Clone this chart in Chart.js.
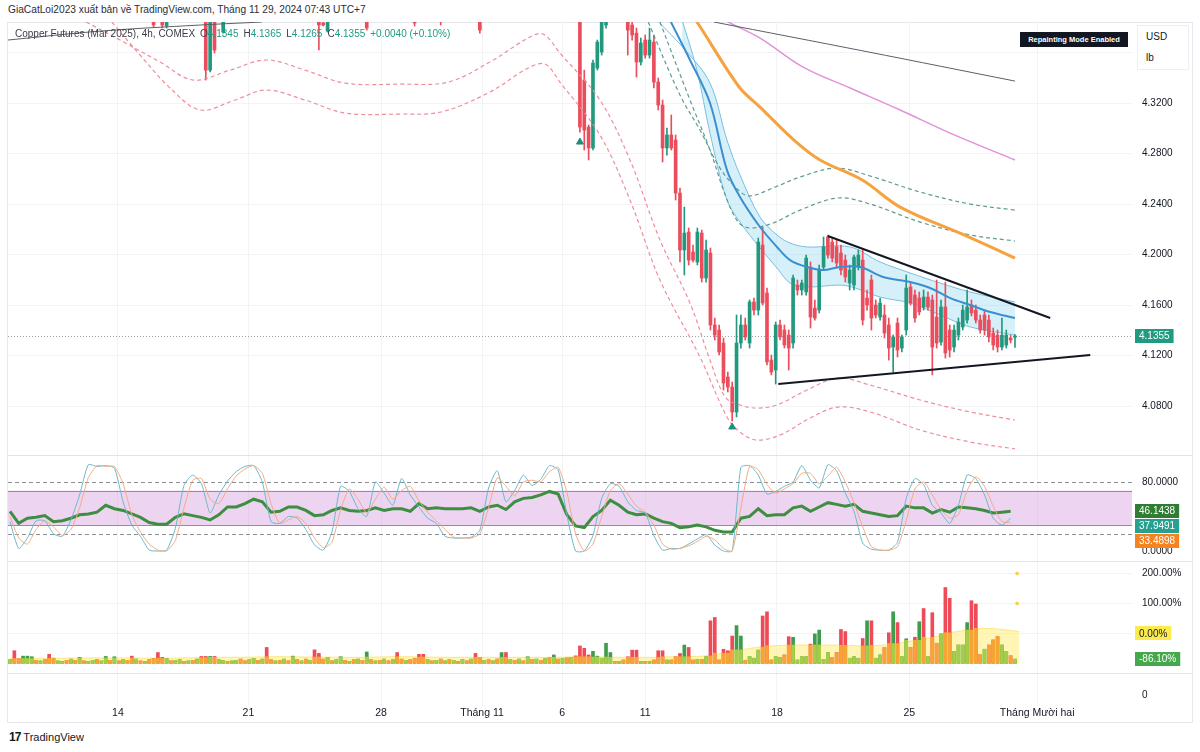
<!DOCTYPE html>
<html>
<head>
<meta charset="utf-8">
<script src="https://cdn.jsdelivr.net/npm/chart.js@4.4.1/dist/chart.umd.min.js"></script>
<style>
  html, body { margin: 0; padding: 0; background: #fff; }
  body { width: 1200px; height: 752px; position: relative; overflow: hidden;
         font-family: 'Liberation Sans', Arial, sans-serif; color: #131722; }
  #frame { position: absolute; left: 7px; top: 22px; width: 1186px; height: 701px;
           border: 1px solid #e6e8ee; box-sizing: border-box; }
  .pane { position: absolute; left: 0; }
  .sep { position: absolute; left: 7px; width: 1186px; height: 1px; background: #e0e3eb; }
  #credit { position: absolute; left: 8px; top: 4px; font-size: 10.2px; color: #2a2e39; white-space: nowrap; }
  #legend { position: absolute; left: 15px; top: 28px; font-size: 10px; color: #3a3e48; white-space: nowrap; z-index: 5; }
  #legend .v { color: #1f9b85; }
  #legend .k { margin-left: 5px; }
  #repaint { position: absolute; left: 1020px; top: 32px; width: 108px; height: 15px; background: #131722;
             color: #fff; font-size: 7.5px; font-weight: bold; line-height: 15px; text-align: center; z-index: 5; }
  #unit { position: absolute; left: 1137px; top: 25px; width: 52px; height: 45px; background: #fff;
          border: 1px solid #eceff3; box-sizing: border-box; font-size: 10px; z-index: 5; }
  #unit div { position: absolute; left: 8px; }
  #tv { position: absolute; left: 9px; top: 730px; font-size: 11px; color: #131722; white-space: nowrap; }
  #tv b { font-size: 12px; letter-spacing: -1px; margin-right: 3px; }
</style>
</head>
<body>
<div id="frame"></div>
<div class="pane" style="top:22px"><canvas id="cPrice" width="1200" height="433"></canvas></div>
<div class="sep" style="top:455px"></div>
<div class="pane" style="top:456px"><canvas id="cOsc" width="1200" height="105"></canvas></div>
<div class="sep" style="top:561px"></div>
<div class="pane" style="top:562px"><canvas id="cVol" width="1200" height="111"></canvas></div>
<div class="sep" style="top:673px"></div>
<div class="pane" style="top:674px"><canvas id="cBottom" width="1200" height="48"></canvas></div>

<div id="credit">GiaCatLoi2023 xuất bản về TradingView.com, Tháng 11 29, 2024 07:43 UTC+7</div>
<div id="legend">Copper Futures (Mar 2025), 4h, COMEX<span class="k">O<span class="v">4.1345</span></span><span class="k">H<span class="v">4.1365</span></span><span class="k">L<span class="v">4.1265</span></span><span class="k">C<span class="v">4.1355</span></span><span class="k v">+0.0040 (+0.10%)</span></div>
<div id="repaint">Repainting Mode Enabled</div>
<div id="unit"><div style="top:5px">USD</div><div style="top:26px">lb</div></div>
<div id="tv"><b>17</b>TradingView</div>

<script>
// ---- time axis (4h bars, bar 0 = left edge) ----
const tickPos = [24.8, 54.8, 85.3, 108.5, 126.9, 146.0, 176.3, 206.7, 236.1];
const tickLabels = ['14', '21', '28', 'Tháng 11', '6', '11', '18', '25', 'Tháng Mười hai'];
const xMin = -0.46, xMax = 257.9;

// ---- price pane ----
const priceTicks = [4.08, 4.12, 4.16, 4.20, 4.24, 4.28, 4.32, 4.36];
const priceMin = 4.0412, priceMax = 4.3842;

// candles [open, high, low, close] from bar 131 on (null = above the window)
const firstBar = 131;
const candlesMain = [
  [4.3937,4.3976,4.2970,4.3010],[4.3382,4.3461,4.2828,4.2986],[4.3010,4.3026,4.2749,4.2844],
  [4.2844,4.3541,4.2828,4.3517],[4.3477,4.3699,4.3461,4.3683],[4.3604,4.3937,4.3580,4.3897],
  [4.3818,4.3976,4.3794,4.3937],
  null, null, null, null,
  [4.3937,4.3976,4.3580,4.3778],[4.3818,4.3897,4.3699,4.3739],[4.3754,4.3794,4.3406,4.3525],
  [4.3525,4.3715,4.3501,4.3675],[4.3699,4.3739,4.3556,4.3580],[4.3580,4.3794,4.3556,4.3699],
  [4.3683,4.3739,4.3319,4.3366],[4.3366,4.3398,4.3145,4.3184],
  [4.3184,4.3224,4.2733,4.2844],[4.2844,4.3002,4.2788,4.2947],[4.2947,4.3105,4.2828,4.2844],
  [4.2907,4.2947,4.2432,4.2487],[4.2487,4.2527,4.1941,4.2036],[4.2036,4.2376,4.1838,4.2170],
  [4.2178,4.2210,4.1917,4.1956],[4.2020,4.2075,4.1941,4.1956],[4.1941,4.2210,4.1917,4.2178],
  [4.2170,4.2194,4.1782,4.1814],
  [4.1814,4.2115,4.1782,4.2036],[4.2012,4.2052,4.1402,4.1442],[4.1442,4.1497,4.1323,4.1362],
  [4.1402,4.1442,4.1204,4.1228],[4.1299,4.1339,4.0927,4.0982],[4.1030,4.1069,4.0911,4.0950],
  [4.0950,4.0990,4.0681,4.0752],[4.0752,4.1521,4.0713,4.1299],[4.1299,4.1521,4.1259,4.1442],
  [4.1442,4.1497,4.1323,4.1347],
  [4.1299,4.1640,4.1259,4.1624],[4.1624,4.1655,4.1521,4.1560],[4.1560,4.2131,4.1521,4.2099],
  [4.2075,4.2218,4.1600,4.1616],[4.1695,4.1735,4.1125,4.1149],[4.1164,4.1204,4.1046,4.1069],
  [4.1085,4.1465,4.0974,4.1442],[4.1442,4.1481,4.1323,4.1347],[4.1402,4.1442,4.1259,4.1283],
  [4.1362,4.1402,4.1085,4.1259],
  [4.1299,4.1838,4.1259,4.1814],[4.1758,4.1798,4.1679,4.1719],[4.1719,4.1798,4.1679,4.1774],
  [4.1703,4.1996,4.1679,4.1972],[4.1901,4.1941,4.1418,4.1505],[4.1576,4.1640,4.1481,4.1497],
  [4.1560,4.1917,4.1537,4.1877],[4.1901,4.2139,4.1877,4.2060],[4.2139,4.2155,4.1972,4.1996],
  [4.2099,4.2131,4.1941,4.1972],
  [4.2060,4.2115,4.1893,4.1933],[4.2012,4.2075,4.1838,4.1877],[4.1956,4.1996,4.1782,4.1822],
  [4.1774,4.1917,4.1719,4.1877],[4.1758,4.1996,4.1719,4.1980],[4.1901,4.2036,4.1877,4.1996],
  [4.1956,4.2036,4.1442,4.1481],[4.1655,4.1719,4.1560,4.1600],[4.1798,4.1838,4.1402,4.1497],
  [4.1600,4.1640,4.1497,4.1521],
  [4.1505,4.1655,4.1481,4.1616],[4.1521,4.1600,4.1339,4.1378],[4.1442,4.1497,4.1164,4.1259],
  [4.1267,4.1362,4.1069,4.1347],[4.1457,4.1497,4.1188,4.1244],[4.1259,4.1362,4.1228,4.1347],
  [4.1402,4.1838,4.1362,4.1735],[4.1743,4.1774,4.1600,4.1616],[4.1679,4.1719,4.1465,4.1497],
  [4.1655,4.1703,4.1521,4.1545],
  [4.1584,4.1719,4.1560,4.1663],[4.1663,4.1703,4.1560,4.1584],[4.1640,4.1679,4.1046,4.1267],
  [4.1505,4.1798,4.1259,4.1299],[4.1307,4.1640,4.1283,4.1584],[4.1584,4.1782,4.1180,4.1220],
  [4.1402,4.1442,4.1188,4.1244],[4.1267,4.1442,4.1228,4.1402],[4.1362,4.1497,4.1323,4.1465],
  [4.1426,4.1600,4.1402,4.1560],
  [4.1481,4.1719,4.1457,4.1584],[4.1600,4.1640,4.1513,4.1537],[4.1560,4.1600,4.1457,4.1481],
  [4.1481,4.1521,4.1378,4.1402],[4.1521,4.1560,4.1362,4.1402],[4.1481,4.1521,4.1307,4.1347],
  [4.1378,4.1418,4.1244,4.1283],[4.1362,4.1402,4.1228,4.1267],[4.1267,4.1497,4.1244,4.1362],
  [4.1283,4.1402,4.1259,4.1362],
  [4.1339,4.1362,4.1299,4.1323],[4.1345,4.1365,4.1265,4.1355]
];
// earlier bars that only poke into the top edge: [bar, open, high, low, close]
const candlesTop = [
  [33,4.3897,4.3976,4.3802,4.3818],[35,4.3897,4.3976,4.3794,4.3818],[36,4.3810,4.3976,4.3794,4.3897],
  [45,4.3937,4.3976,4.3382,4.3461],[46,4.3461,4.3937,4.3446,4.3897],[47,4.3921,4.3976,4.3596,4.3620],
  [49,4.3762,4.3937,4.3754,4.3857],[71,4.3897,4.3976,4.3620,4.3818],[72,4.3834,4.3897,4.3810,4.3818],
  [73,4.3770,4.3937,4.3762,4.3897],[82,4.3897,4.3976,4.3778,4.3794],[93,4.3897,4.3976,4.3810,4.3834],
  [99,4.3897,4.3976,4.3818,4.3857],[108,4.3897,4.3976,4.3754,4.3778]
];

// overlay lines as [bar, price]
const grayLine = [[-0.5,4.3699],[20.7,4.3770],[43.7,4.3818],[57.9,4.3842],[60,null],[161.8,4.3842],[196.8,4.3608],[231,4.3374]];
const pinkLine = [[162.1,4.3905],[165.1,4.3842],[172.4,4.3715],[182.3,4.3485],[193.1,4.3319],[204.6,4.3145],[216.1,4.2962],[231,4.2749]];
const orangeLine = [[156.0,4.3925],[157.9,4.3842],[167.6,4.3327],[172.4,4.3168],[180.2,4.2907],[186.2,4.2749],[195.9,4.2590],[204.6,4.2376],[219.3,4.2155],[231,4.1972]];
const bandUpper = [[148.7,4.3857],[155.2,4.3620],[160.9,4.3358],[164.8,4.2907],[167.8,4.2630],[172.4,4.2297],[176.3,4.2155],[179.3,4.2091],[183.2,4.2060],[193.1,4.2060],[200,4.1941],[206.9,4.1854],[213.8,4.1774],[220.7,4.1703],[231,4.1624]];
const bandMid = [[151.7,4.3857],[156.3,4.3541],[160.9,4.3200],[164.8,4.2669],[167.8,4.2456],[172.4,4.2218],[176.3,4.2060],[179.3,4.1956],[183.2,4.1901],[186.9,4.1877],[190.8,4.1901],[195.4,4.1901],[200.7,4.1822],[206.9,4.1782],[211.5,4.1735],[216.1,4.1655],[220.7,4.1600],[225.3,4.1545],[231,4.1497]];
const bandLower = [[154.5,4.3857],[157.9,4.3461],[160.9,4.2962],[164.8,4.2432],[167.8,4.2257],[172.4,4.2052],[176.3,4.1893],[179.3,4.1774],[183.2,4.1743],[190.8,4.1758],[194.3,4.1735],[200,4.1663],[206.9,4.1616],[213.8,4.1521],[220.7,4.1426],[231,4.1362]];
const greenDash1 = [[146.7,4.3842],[154,4.3263],[158.6,4.2986],[163.2,4.2685],[167.4,4.2511],[170.1,4.2464],[175.9,4.2535],[181.6,4.2614],[189.9,4.2685],[197.7,4.2622],[209.2,4.2495],[220.7,4.2400],[231,4.2352]];
const greenDash2 = [[149.4,4.3842],[156.3,4.3224],[160.9,4.2828],[164.4,4.2471],[167.4,4.2257],[170.1,4.2210],[175.4,4.2250],[181.6,4.2352],[190.3,4.2448],[197.7,4.2400],[209.2,4.2257],[220.7,4.2155],[231,4.2107]];
const redDash1 = [[17.5,4.3842],[25.3,4.3699],[34.5,4.3525],[42.1,4.3382],[50.6,4.3461],[58.9,4.3541],[67.8,4.3461],[77,4.3358],[89.7,4.3350],[100.7,4.3366],[110.3,4.3525],[119.1,4.3715],[122.5,4.3747],[126.4,4.3596],[135.6,4.3224],[142.5,4.2749],[149.4,4.2115],[156.3,4.1616],[160.9,4.1164],[164.4,4.0871],[167.8,4.0808],[171.7,4.0784],[176.3,4.0808],[183.2,4.0927],[190.3,4.1022],[197.7,4.0966],[209.2,4.0848],[220.7,4.0753],[231,4.0689]];
const redDash2 = [[23.4,4.3842],[29.9,4.3580],[36.8,4.3319],[43.7,4.3145],[51.7,4.3224],[58.9,4.3303],[67.8,4.3224],[77,4.3121],[89.7,4.3113],[99.1,4.3129],[110.3,4.3287],[119.1,4.3477],[123,4.3509],[126.4,4.3366],[135.6,4.2947],[142.5,4.2432],[149.4,4.1798],[158.6,4.1188],[164.8,4.0713],[167.8,4.0594],[171.5,4.0531],[177,4.0570],[183.9,4.0705],[190.3,4.0792],[197.7,4.0753],[209.2,4.0610],[220.7,4.0515],[231,4.0460]];
const trendUpper = [[188,4.2147],[239.1,4.1497]];
const trendLower = [[176.6,4.0974],[248.3,4.1204]];
const signalUp = [[131,4.2891],[166,4.0634]];

// ---- oscillator pane (one value every 2 bars) ----
const oscStep = 2;
const rsi = [46,32,38,39,41,34,35,38,42,43, 45,53,49,47,43,39,33,31,31,39, 43,41,39,36,42,51,51,55,60,57,
  45,46,51,51,47,41,42,47,50,47, 46,47,50,47,49,49,46,55,49,50, 49,49,49,50,46,51,53,48,57,61,
  62,65,69,66,42,29,27,40,47,59, 53,45,42,43,38,34,32,27,28,30, 28,24,22,22,38,40,49,41,42,42,
  50,52,46,51,56,54,52,54,46,44, 42,40,41,52,50,50,44,48,45,51, 50,49,47,44,45,46.1438];
const stochK = [34,3,15,35,35,20,17,36,65,100, 98,99,96,57,30,17,1,0,1,26, 76,88,78,44,65,81,92,98,99,80,
  34,32,40,38,25,7,1,22,75,69, 49,40,80,67,53,84,65,51,38,32, 17,15,15,16,24,73,93,57,70,88,
  76,83,99,94,42,0,0,18,61,78, 75,57,47,44,18,1,3,3,8,14, 19,7,0,0,97,99,88,66,69,75,
  80,99,82,73,100,93,67,46,9,2, 1,1,10,61,84,77,53,44,32,53, 88,84,65,38,30,37.9491];
const stochD = [40,15,8,25,35,28,18,25,50,85, 99,98,98,78,42,22,8,1,0,12, 50,82,84,60,55,72,87,95,99,90,
  55,32,36,40,32,15,4,10,48,72, 60,44,60,74,60,70,75,58,45,35, 25,16,15,15,20,50,85,75,64,80,
  82,80,92,97,68,20,0,8,40,70, 78,66,52,45,30,8,2,3,6,11, 17,13,3,0,50,98,94,77,67,72,
  78,90,90,78,87,97,80,56,28,5, 1,1,5,35,72,80,65,48,38,42, 70,86,75,52,34,33.4898];
const oscBandLevels = [30, 70];
const oscDashLevels = [20, 80];
const oscTicks = [80, 0];

// ---- relative volume pane (% vs average), one value per bar ----
const volPct = [
  -88,-58,-85,-76,-76,-78,-90,-92,-88,-70, -83,-92,-94,-90,-86,-90,-80,-92,-94,-90,
  -88,-92,-77,-90,-78,-92,-88,-90,-76,-86, -92,-94,-88,-84,-64,-80,-84,-92,-90,-88,
  -94,-92,-90,-86,-77,-77,-77,-77,-88,-90, -94,-92,-90,-86,-92,-88,-84,-90,-86,-47,
  -88,-92,-90,-86,-92,-76,-88,-92,-86,-90, -55,-67,-86,-80,-92,-88,-78,-90,-94,-88,
  -86,-90,-62,-88,-92,-90,-86,-92,-88,-64, -86,-90,-88,-84,-70,-70,-88,-92,-90,-86,
  -92,-88,-90,-94,-88,-92,-86,-67,-80,-90, -88,-92,-86,-64,-64,-88,-90,-86,-92,-78,
  -88,-86,-90,-84,-80,-72,-86,-84,-82,-80, -75,-42,-50,-72,-60,-76,-83,-33,-64,-94,
  -94,-89,-78,-56,-56,-94,-94,-94,-89,-58, -58,-89,-89,-78,-67,-39,-47,-89,-87,-87,
  -78,42,53,-89,-53,-58,-9,26,-9,-91, -78,-83,-56,58,72,-89,-78,-81,-72,-11,
  -13,-89,-78,-78,-36,0,11,-87,-64,-80, -64,13,6,-83,-78,-83,-17,42,42,-83,
  -72,-47,2,72,36,-78,-18,-47,-13,39, 83,-78,69,-33,0,153,117,-61,-39,-39,
  36,109,98,-70,-53,-39,-22,-11,-39,-60, -75,-86.10
];
const volUp = [
  1,0,0,1,1,1,0,1,0,0, 0,1,1,0,1,0,1,0,1,1, 0,1,1,0,1,0,1,0,0,1, 0,1,0,0,0,0,1,0,1,1,
  0,1,0,1,0,0,1,0,1,1, 0,1,1,0,0,1,1,0,1,0, 0,1,0,1,0,1,0,1,0,1, 0,0,0,1,0,1,1,0,1,0,
  1,0,1,0,1,0,1,0,1,0, 0,1,0,0,0,0,1,0,1,0, 1,0,1,0,1,0,1,0,0,1, 0,1,0,1,0,1,0,1,0,1,
  0,1,0,1,0,1,0,1,0,1, 0,0,0,0,1,1,1,1,1,0, 1,0,0,0,0,1,0,1,0,0, 0,1,0,0,0,1,0,0,1,0,
  1,0,0,0,0,0,0,1,1,0, 1,1,1,0,0,0,1,1,0,0, 1,1,1,1,0,1,1,1,1,0, 0,0,0,1,1,1,0,1,0,1,
  1,0,0,1,0,1,1,0,0,1, 0,1,0,0,1,0,0,1,1,1, 1,0,0,0,1,0,0,0,1,1, 0,1
];
// volume average, one value every 4 bars
const volAvgStep = 4;
const volAvg = [-84,-84,-83,-83,-82,-82,-82,-82,-83,-83, -82,-81,-80,-80,-79,-78,-78,-79,-79,-80,
  -80,-79,-78,-78,-79,-80,-80,-80,-80,-80, -80,-80,-79,-78,-79,-80,-80,-80,-78,-78,
  -75,-66,-55,-46,-41,-39,-39,-39,-40,-42, -40,-34,-23,-13,2,11,17,13,6];
const volTicks = [200, 100, 0];
const volMarks = [200, 100];

// ---- colours ----
const UP = '#22997e', DOWN = '#eb4d5c';
const V_RED = '#ee4a57', V_GREEN = '#3f9c4b', V_ORANGE = '#f6a535', V_LIME = '#a7cd46';
const FONT = "'Liberation Sans', Arial, sans-serif";
const GRID = '#f2f3f6';

Chart.defaults.font.family = FONT;
Chart.defaults.font.size = 10;
Chart.defaults.color = '#131722';

const pts = arr => arr.map(p => ({ x: p[0], y: p[1] }));

function xAxis(showLabels) {
  return {
    type: 'linear', min: xMin, max: xMax, offset: false,
    afterBuildTicks: s => { s.ticks = tickPos.map(v => ({ value: v })); },
    afterFit: s => { s.height = showLabels ? 16 : 0; s.paddingLeft = 0; s.paddingRight = 0; },
    grid: { color: GRID, drawTicks: false, offset: false },
    border: { display: false },
    ticks: { display: showLabels, padding: 1, autoSkip: false, maxRotation: 0,
             font: { size: 10.5 }, callback: (v, i) => tickLabels[i] }
  };
}
function yAxis(min, max, ticks, fmt, showGrid) {
  return {
    position: 'right', min, max,
    afterFit: s => { s.width = 68; s.paddingTop = 0; s.paddingBottom = 0; },
    afterBuildTicks: s => { s.ticks = ticks.map(v => ({ value: v })); },
    grid: { color: showGrid ? GRID : 'rgba(0,0,0,0)', drawTicks: false },
    border: { display: false },
    ticks: { padding: 10, font: { size: 10 }, callback: fmt }
  };
}

// coloured value boxes on the right axis
const sideLabels = {
  id: 'sideLabels',
  afterDraw(chart, _a, opts) {
    if (!opts.items) return;
    const { ctx, chartArea } = chart, y = chart.scales.y;
    ctx.save();
    ctx.font = '10px ' + FONT;
    ctx.textBaseline = 'middle';
    let prev = -1e9;
    opts.items.forEach(it => {
      let py = y.getPixelForValue(it.value);
      if (opts.stack) py = Math.max(py, prev + 15);
      prev = py;
      const w = ctx.measureText(it.text).width + 8;
      const x0 = chartArea.right + 3;
      ctx.fillStyle = it.bg;
      ctx.fillRect(x0, Math.round(py - 7), w, 14);
      ctx.fillStyle = it.fg || '#fff';
      ctx.fillText(it.text, x0 + 4, py + 0.5);
    });
    ctx.restore();
  }
};
// dotted last-price line and oscillator band
const paneDecor = {
  id: 'paneDecor',
  beforeDatasetsDraw(chart, _a, opts) {
    const { ctx, chartArea: a } = chart, y = chart.scales.y;
    ctx.save();
    if (opts.band) {
      const y1 = y.getPixelForValue(opts.band[1]), y0 = y.getPixelForValue(opts.band[0]);
      ctx.fillStyle = 'rgba(214, 160, 222, 0.45)';
      ctx.fillRect(a.left, y1, a.right - a.left, y0 - y1);
      ctx.strokeStyle = '#9a8aa0'; ctx.lineWidth = 1;
      [y0, y1].forEach(py => { ctx.beginPath(); ctx.moveTo(a.left, Math.round(py) + 0.5); ctx.lineTo(a.right, Math.round(py) + 0.5); ctx.stroke(); });
    }
    if (opts.dashed) {
      ctx.strokeStyle = '#8d8f96'; ctx.lineWidth = 1; ctx.setLineDash([4, 3]);
      opts.dashed.forEach(v => { const py = Math.round(y.getPixelForValue(v)) + 0.5; ctx.beginPath(); ctx.moveTo(a.left, py); ctx.lineTo(a.right, py); ctx.stroke(); });
      ctx.setLineDash([]);
    }
    if (opts.priceLine != null) {
      const py = Math.round(y.getPixelForValue(opts.priceLine)) + 0.5;
      ctx.strokeStyle = '#9aa0a6'; ctx.lineWidth = 1; ctx.setLineDash([1, 2]);
      ctx.beginPath(); ctx.moveTo(a.left, py); ctx.lineTo(a.right, py); ctx.stroke();
    }
    ctx.restore();
  }
};
Chart.register(sideLabels, paneDecor);

const base = { responsive: false, animation: false, devicePixelRatio: 1,
  layout: { padding: { left: 8, right: 0, top: 0, bottom: 0 }, autoPadding: false } };

// ---------- price chart ----------
const bars = [];
candlesMain.forEach((c, k) => { if (c) bars.push({ i: firstBar + k, c }); });
candlesTop.forEach(r => bars.push({ i: r[0], c: r.slice(1) }));
const barColor = bars.map(b => b.c[3] >= b.c[0] ? UP : DOWN);
const lastClose = candlesMain[candlesMain.length - 1][3];

function line(data, color, width, extra) {
  return Object.assign({ type: 'line', data: pts(data), borderColor: color, borderWidth: width,
    pointRadius: 0, tension: 0.35, fill: false, order: 3 }, extra || {});
}

new Chart(document.getElementById('cPrice'), {
  type: 'bar',
  data: { datasets: [
    line(bandUpper, '#78bedd', 1, { fill: '+1', backgroundColor: 'rgba(120, 205, 236, 0.3)', order: 8 }),
    line(bandLower, '#78bedd', 1, { order: 8 }),
    { type: 'bar', data: bars.map(b => ({ x: b.i, y: [b.c[2], b.c[1]] })), backgroundColor: barColor,
      barThickness: 1, grouped: false, order: 6 },
    { type: 'bar', data: bars.map(b => ({ x: b.i, y: [b.c[0], b.c[3]] })), backgroundColor: barColor,
      barThickness: 3, grouped: false, minBarLength: 1, order: 5 },
    line(bandMid, '#3b8fd1', 2),
    line(grayLine, '#5d5f66', 1),
    line(pinkLine, '#e391d8', 1.5),
    line(orangeLine, '#f6a23f', 3),
    line(greenDash1, '#5f9c90', 1.2, { borderDash: [4, 3] }),
    line(greenDash2, '#5f9c90', 1.2, { borderDash: [4, 3] }),
    line(redDash1, '#ee8e9a', 1.2, { borderDash: [4, 3] }),
    line(redDash2, '#ee8e9a', 1.2, { borderDash: [4, 3] }),
    line(trendUpper, '#131722', 2, { tension: 0, order: 1 }),
    line(trendLower, '#131722', 2, { tension: 0, order: 1 }),
    { type: 'line', data: pts(signalUp), showLine: false, pointStyle: 'triangle', pointRadius: 4,
      backgroundColor: '#1e8f7a', borderColor: '#1e8f7a', order: 2 }
  ] },
  options: Object.assign({}, base, {
    scales: { x: xAxis(false), y: yAxis(priceMin, priceMax, priceTicks, v => v.toFixed(4), true) },
    plugins: { legend: { display: false }, tooltip: { enabled: false },
      paneDecor: { priceLine: lastClose },
      sideLabels: { items: [{ value: lastClose, text: lastClose.toFixed(4), bg: '#1f9b82' }] } }
  })
});

// ---------- oscillator chart ----------
const oscPts = arr => arr.map((v, k) => ({ x: k * oscStep, y: v }));
new Chart(document.getElementById('cOsc'), {
  type: 'line',
  data: { datasets: [
    { data: oscPts(stochD), borderColor: '#f2ab84', borderWidth: 1, pointRadius: 0, tension: 0.2 },
    { data: oscPts(stochK), borderColor: '#6ab9c8', borderWidth: 1, pointRadius: 0, tension: 0.2 },
    { data: oscPts(rsi), borderColor: '#3e8e41', borderWidth: 3, pointRadius: 0, tension: 0 }
  ] },
  options: Object.assign({}, base, {
    scales: { x: xAxis(false), y: yAxis(-11.6, 110.1, oscTicks, v => v.toFixed(4), false) },
    plugins: { legend: { display: false }, tooltip: { enabled: false },
      paneDecor: { band: oscBandLevels, dashed: oscDashLevels },
      sideLabels: { stack: true, items: [
        { value: rsi[rsi.length - 1], text: rsi[rsi.length - 1].toFixed(4), bg: '#2e7d32' },
        { value: stochK[stochK.length - 1], text: stochK[stochK.length - 1].toFixed(4), bg: '#26a08f' },
        { value: stochD[stochD.length - 1], text: stochD[stochD.length - 1].toFixed(4), bg: '#f5831f' }
      ] } }
  })
});

// ---------- relative volume chart ----------
const avgAt = i => volAvg[Math.min(volAvg.length - 1, Math.round(i / volAvgStep))];
const volFull = volPct.map((v, i) => ({ x: i, y: [-100, v] }));
const volLow = volPct.map((v, i) => ({ x: i, y: [-100, Math.min(v, avgAt(i))] }));
new Chart(document.getElementById('cVol'), {
  type: 'bar',
  data: { datasets: [
    { type: 'line', data: volAvg.map((v, k) => ({ x: k * volAvgStep, y: v })), borderColor: 'rgba(250, 224, 90, 0.7)',
      borderWidth: 1, backgroundColor: 'rgba(255, 238, 120, 0.55)', fill: { value: -100 }, pointRadius: 0, tension: 0.3, order: 9 },
    { data: volFull, backgroundColor: volUp.map(u => u ? V_GREEN : V_RED), barThickness: 3, grouped: false, order: 5 },
    { data: volLow, backgroundColor: volUp.map(u => u ? V_LIME : V_ORANGE), barThickness: 3, grouped: false, order: 4 },
    { type: 'line', data: volMarks.map(v => ({ x: 231.5, y: v })), showLine: false, pointRadius: 1.5,
      backgroundColor: '#f3d34a', borderColor: '#f3d34a', order: 1 }
  ] },
  options: Object.assign({}, base, {
    scales: { x: xAxis(false), y: yAxis(-132.3, 238.3, volTicks, v => v.toFixed(2) + '%', true) },
    plugins: { legend: { display: false }, tooltip: { enabled: false },
      sideLabels: { items: [
        { value: 0, text: (0).toFixed(2) + '%', bg: '#fbeb4d', fg: '#131722' },
        { value: volPct[volPct.length - 1], text: volPct[volPct.length - 1].toFixed(2) + '%', bg: '#45a84c' }
      ] } }
  })
});

// ---------- empty bottom pane + time axis ----------
new Chart(document.getElementById('cBottom'), {
  type: 'line',
  data: { datasets: [{ data: [], pointRadius: 0 }] },
  options: Object.assign({}, base, {
    scales: { x: xAxis(true), y: yAxis(-1, 1.909, [0], v => String(v), false) },
    plugins: { legend: { display: false }, tooltip: { enabled: false } }
  })
});
</script>
</body>
</html>
